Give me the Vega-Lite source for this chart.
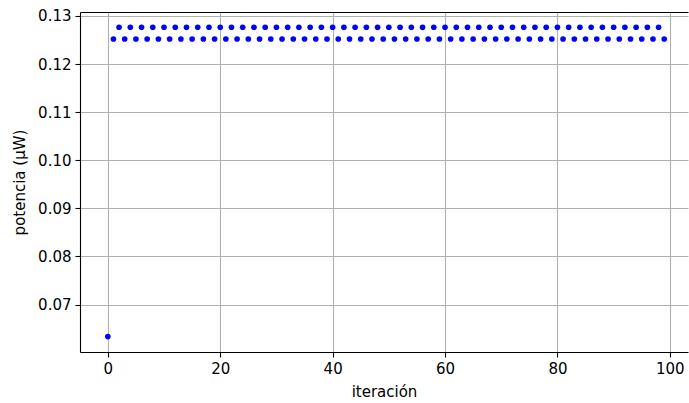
{
  "$schema": "https://vega.github.io/schema/vega-lite/v6.json",
  "autosize": "none",
  "width": 608,
  "height": 340,
  "padding": {"left": 80, "top": 12, "right": 1, "bottom": 51},
  "background": "white",
  "config": {
    "view": {"stroke": null},
    "font": "DejaVu Sans",
    "axis": {
      "labelFont": "DejaVu Sans",
      "titleFont": "DejaVu Sans",
      "labelFontSize": 15,
      "titleFontSize": 15,
      "titleFontWeight": "normal",
      "labelColor": "black",
      "titleColor": "black",
      "domainColor": "black",
      "tickColor": "black",
      "tickSize": 5,
      "domainWidth": 1.1,
      "tickWidth": 1.1,
      "gridColor": "#b0b0b0",
      "gridWidth": 1.1,
      "labelPadding": 4
    }
  },
  "data": {"values": [
    {"iteracion": 0, "potencia": 0.06336},
    {"iteracion": 1, "potencia": 0.1252}, {"iteracion": 2, "potencia": 0.12765},
    {"iteracion": 3, "potencia": 0.1252}, {"iteracion": 4, "potencia": 0.12765},
    {"iteracion": 5, "potencia": 0.1252}, {"iteracion": 6, "potencia": 0.12765},
    {"iteracion": 7, "potencia": 0.1252}, {"iteracion": 8, "potencia": 0.12765},
    {"iteracion": 9, "potencia": 0.1252}, {"iteracion": 10, "potencia": 0.12765},
    {"iteracion": 11, "potencia": 0.1252}, {"iteracion": 12, "potencia": 0.12765},
    {"iteracion": 13, "potencia": 0.1252}, {"iteracion": 14, "potencia": 0.12765},
    {"iteracion": 15, "potencia": 0.1252}, {"iteracion": 16, "potencia": 0.12765},
    {"iteracion": 17, "potencia": 0.1252}, {"iteracion": 18, "potencia": 0.12765},
    {"iteracion": 19, "potencia": 0.1252}, {"iteracion": 20, "potencia": 0.12765},
    {"iteracion": 21, "potencia": 0.1252}, {"iteracion": 22, "potencia": 0.12765},
    {"iteracion": 23, "potencia": 0.1252}, {"iteracion": 24, "potencia": 0.12765},
    {"iteracion": 25, "potencia": 0.1252}, {"iteracion": 26, "potencia": 0.12765},
    {"iteracion": 27, "potencia": 0.1252}, {"iteracion": 28, "potencia": 0.12765},
    {"iteracion": 29, "potencia": 0.1252}, {"iteracion": 30, "potencia": 0.12765},
    {"iteracion": 31, "potencia": 0.1252}, {"iteracion": 32, "potencia": 0.12765},
    {"iteracion": 33, "potencia": 0.1252}, {"iteracion": 34, "potencia": 0.12765},
    {"iteracion": 35, "potencia": 0.1252}, {"iteracion": 36, "potencia": 0.12765},
    {"iteracion": 37, "potencia": 0.1252}, {"iteracion": 38, "potencia": 0.12765},
    {"iteracion": 39, "potencia": 0.1252}, {"iteracion": 40, "potencia": 0.12765},
    {"iteracion": 41, "potencia": 0.1252}, {"iteracion": 42, "potencia": 0.12765},
    {"iteracion": 43, "potencia": 0.1252}, {"iteracion": 44, "potencia": 0.12765},
    {"iteracion": 45, "potencia": 0.1252}, {"iteracion": 46, "potencia": 0.12765},
    {"iteracion": 47, "potencia": 0.1252}, {"iteracion": 48, "potencia": 0.12765},
    {"iteracion": 49, "potencia": 0.1252}, {"iteracion": 50, "potencia": 0.12765},
    {"iteracion": 51, "potencia": 0.1252}, {"iteracion": 52, "potencia": 0.12765},
    {"iteracion": 53, "potencia": 0.1252}, {"iteracion": 54, "potencia": 0.12765},
    {"iteracion": 55, "potencia": 0.1252}, {"iteracion": 56, "potencia": 0.12765},
    {"iteracion": 57, "potencia": 0.1252}, {"iteracion": 58, "potencia": 0.12765},
    {"iteracion": 59, "potencia": 0.1252}, {"iteracion": 60, "potencia": 0.12765},
    {"iteracion": 61, "potencia": 0.1252}, {"iteracion": 62, "potencia": 0.12765},
    {"iteracion": 63, "potencia": 0.1252}, {"iteracion": 64, "potencia": 0.12765},
    {"iteracion": 65, "potencia": 0.1252}, {"iteracion": 66, "potencia": 0.12765},
    {"iteracion": 67, "potencia": 0.1252}, {"iteracion": 68, "potencia": 0.12765},
    {"iteracion": 69, "potencia": 0.1252}, {"iteracion": 70, "potencia": 0.12765},
    {"iteracion": 71, "potencia": 0.1252}, {"iteracion": 72, "potencia": 0.12765},
    {"iteracion": 73, "potencia": 0.1252}, {"iteracion": 74, "potencia": 0.12765},
    {"iteracion": 75, "potencia": 0.1252}, {"iteracion": 76, "potencia": 0.12765},
    {"iteracion": 77, "potencia": 0.1252}, {"iteracion": 78, "potencia": 0.12765},
    {"iteracion": 79, "potencia": 0.1252}, {"iteracion": 80, "potencia": 0.12765},
    {"iteracion": 81, "potencia": 0.1252}, {"iteracion": 82, "potencia": 0.12765},
    {"iteracion": 83, "potencia": 0.1252}, {"iteracion": 84, "potencia": 0.12765},
    {"iteracion": 85, "potencia": 0.1252}, {"iteracion": 86, "potencia": 0.12765},
    {"iteracion": 87, "potencia": 0.1252}, {"iteracion": 88, "potencia": 0.12765},
    {"iteracion": 89, "potencia": 0.1252}, {"iteracion": 90, "potencia": 0.12765},
    {"iteracion": 91, "potencia": 0.1252}, {"iteracion": 92, "potencia": 0.12765},
    {"iteracion": 93, "potencia": 0.1252}, {"iteracion": 94, "potencia": 0.12765},
    {"iteracion": 95, "potencia": 0.1252}, {"iteracion": 96, "potencia": 0.12765},
    {"iteracion": 97, "potencia": 0.1252}, {"iteracion": 98, "potencia": 0.12765},
    {"iteracion": 99, "potencia": 0.1252}
  ]},
  "layer": [
    {
      "mark": {"type": "circle", "color": "#0000ff", "size": 32, "opacity": 1},
      "encoding": {
        "x": {
          "field": "iteracion", "type": "quantitative",
          "scale": {"domain": [-4.95, 103.23], "nice": false, "zero": false},
          "axis": {"values": [0, 20, 40, 60, 80, 100], "title": "iteración", "titlePadding": 8, "grid": true}
        },
        "y": {
          "field": "potencia", "type": "quantitative",
          "scale": {"domain": [0.06015, 0.13081], "nice": false, "zero": false},
          "axis": {"values": [0.07, 0.08, 0.09, 0.1, 0.11, 0.12, 0.13], "format": ".2f", "title": "potencia (μW)", "titlePadding": 10, "grid": true}
        }
      }
    },
    {
      "mark": {"type": "circle", "opacity": 0},
      "encoding": {
        "x": {
          "field": "iteracion", "type": "quantitative",
          "axis": {"orient": "top", "labels": false, "ticks": false, "grid": false, "title": null}
        }
      }
    }
  ],
  "resolve": {"axis": {"x": "independent"}}
}
